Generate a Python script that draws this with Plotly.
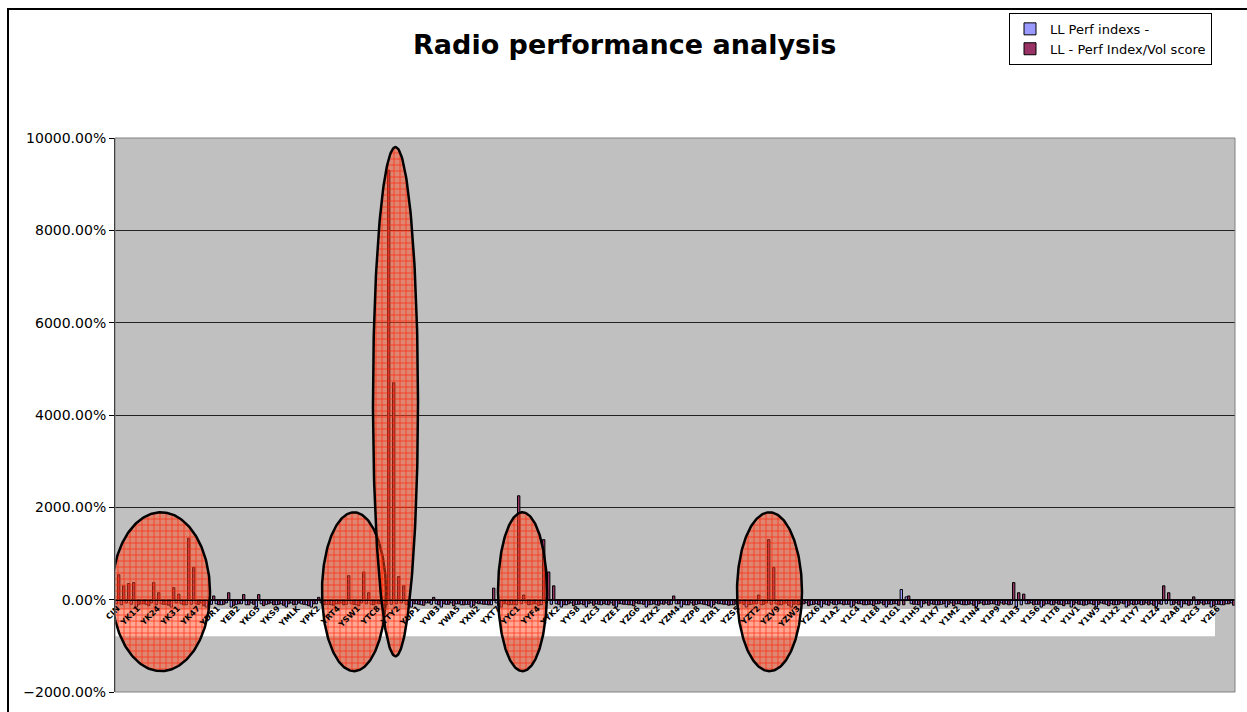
import numpy as np
import plotly.graph_objects as go

# ---------------- data ----------------
series_names = ["LL Perf indexs -", "LL - Perf Index/Vol score"]

perf_index = [
    -90, -110, -70, -100, -160, -90, -100, -70, -110, -90, -100, -160, -70, -90, -110, -100,
    -90, -70, -160, -100, -90, -110, -70, -160, -100, -90, -110, -70, -160, -90, -100, -70,
    -110, -90, -160, -70, -100, -90, -110, -160, -90, -70, -100, -110, -90, -70, -100, -90,
    -110, -70, -90, -100, -70, -90, -110, -100, -90, -70, -100, -160, -90, -110, -70, -100,
    -90, -160, -100, -70, -90, -110, -100, -160, -70, -90, -100, -110, -70, -160, -90, -100,
    -110, -90, -70, -100, -90, -110, -70, -100, -90, -160, -110, -70, -100, -90, -160, -70,
    -90, -110, -100, -70, -160, -90, -100, -110, -70, -90, -160, -100, -110, -90, -70, -100,
    -90, -160, -110, -70, -100, -90, -110, -160, -70, -90, -100, -110, -90, -70, -160, -100,
    -90, -110, -70, -100, -90, -110, -70, -160, -90, -100, -70, -110, -90, -160, -100, -70,
    -110, -90, -100, -160, -70, -90, -110, -100, -90, -70, -160, -100, -90, 220, 60, -90,
    -100, -160, -70, -90, -110, -100, -160, -70, -90, -100, -110, -90, -160, -70, -100, -90,
    -110, -70, -90, -100, -160, -110, -90, -70, -100, -160, -90, -110, -70, -100, -90, -160,
    -70, -100, -110, -90, -160, -70, -100, -90, -110, -70, -160, -90, -100, -110, -70, -90,
    -160, -100, -90, -110, -70, -160, -90, -100, -110, -70, -90, -160, -100, -110, -90, -70,
]

perf_vol_score = [
    540, 300, 350, 370, -110, -90, -130, 370, 150, -100, -120, 260, 120, -110, 1330, 700,
    -100, -130, -90, 80, -110, -100, 150, -120, -90, 110, -110, -100, 110, -130, -90, -110,
    -100, -120, -90, -110, -70, -100, -130, -90, 50, -110, -100, -120, -90, -110, 520, -100,
    -130, 600, 150, -110, -90, -120, 9300, 4700, 500, 300, -110, -90, -100, -120, -70, 50,
    -110, -90, -100, -130, -90, -110, -100, -120, -90, -100, -110, 250, -120, -90, -110, -100,
    2250, 100, -110, -90, -120, 1300, 600, 300, -100, -110, -90, -130, -100, -110, -90, -120,
    -100, -90, -110, -120, -90, -100, -110, -130, -90, -100, -110, -90, -120, -100, -110, 80,
    -90, -100, -110, -120, -90, -100, -130, -110, -90, -100, -120, -110, -90, -100, -110, -90,
    100, -100, 1300, 700, -110, -90, -120, -100, -110, -90, -130, -100, -110, -90, -120, -100,
    -90, -110, -100, -120, -90, -110, -100, -130, -90, -110, -100, -90, -120, -110, 80, -100,
    -110, -90, -120, -100, -110, -90, -100, -130, -90, -110, -100, -120, -90, -110, -100, -90,
    -120, -100, -110, 370, 150, 120, -90, -110, -100, -120, -90, -110, -100, -130, -90, -110,
    -100, -120, -90, -110, -100, -90, -130, -110, -100, -90, -120, -110, -90, -100, -110, -120,
    -90, 300, 150, -100, -110, -90, -120, 60, -100, -110, -90, -130, -100, -110, -90, -120,
]

tick_labels = [
    "CIN", "YK11", "YK24", "YK31", "YK47", "YDR1", "YEB2", "YKG5", "YKS9", "YMLK",
    "YPK2", "YRT4", "YSW1", "YTC8", "YTY2", "YUP1", "YVB3", "YWA5", "YXN2", "YXT7",
    "YYC1", "YYF4", "YYK2", "YYS8", "YZC3", "YZE1", "YZG6", "YZK2", "YZM4", "YZP8",
    "YZR1", "YZS5", "YZT2", "YZV9", "YZW3", "YZX6", "Y1A2", "Y1C4", "Y1E8", "Y1G1",
    "Y1H5", "Y1K7", "Y1M2", "Y1N4", "Y1P9", "Y1R3", "Y1S6", "Y1T8", "Y1V1", "Y1W5",
    "Y1X2", "Y1Y7", "Y1Z4", "Y2A8", "Y2C3", "Y2E6",
]

# highlight ellipses: centre category, centre value, half-width (categories), half-height (%)
ellipse_cx = [8.7, 47.3, 55.6, 81.0, 130.4]
ellipse_cy = [172, 172, 4289, 172, 172]
ellipse_rx = [9.8, 6.4, 4.5, 4.9, 6.5]
ellipse_ry = [1720, 1720, 5515, 1720, 1720]

# ---------------- figure ----------------
N = len(perf_vol_score)
x = list(range(N))

fig = go.Figure()
fig.add_trace(go.Bar(x=x, y=perf_index, name=series_names[0],
                     marker=dict(color="#9999FF", line=dict(color="black", width=1))))
fig.add_trace(go.Bar(x=x, y=perf_vol_score, name=series_names[1],
                     marker=dict(color="#993366", line=dict(color="black", width=1))))

t = np.linspace(0, 2 * np.pi, 240)
for cx, cy, rx, ry in zip(ellipse_cx, ellipse_cy, ellipse_rx, ellipse_ry):
    fig.add_trace(go.Scatter(
        x=cx + rx * np.cos(t), y=cy + ry * np.sin(t),
        mode="lines", fill="toself",
        line=dict(color="black", width=2.5),
        fillcolor="rgba(255,70,30,0.5)",
        fillpattern=dict(shape="+", size=6, solidity=0.25, fgopacity=0.8,
                         fgcolor="rgb(255,30,0)", bgcolor="rgba(255,70,30,0.48)"),
        hoverinfo="skip", showlegend=False))

W, H = 1247, 712
L, R, T, B = 115, 12, 138, 16
pw, ph = W - L - R, H - T - B

def px_x(p):
    return (p - L) / pw

def px_y(p):
    return (H - B - p) / ph

ymin, ymax = -2000, 10000
tickvals = [i * 4 for i in range(len(tick_labels))]

fig.update_layout(
    width=W, height=H,
    margin=dict(l=L, r=R, t=T, b=B),
    paper_bgcolor="white", plot_bgcolor="#C0C0C0",
    barmode="group", bargap=0.05, bargroupgap=0,
    font=dict(family="DejaVu Sans", color="black"),
    title=dict(text="Radio performance analysis", x=0.501, xref="container",
               y=1 - 45 / H, yref="container", xanchor="center", yanchor="middle",
               font=dict(family="DejaVu Sans", size=27, weight="bold", color="black")),
    legend=dict(x=px_x(1212), y=px_y(12), xanchor="right", yanchor="top",
                bgcolor="white", bordercolor="black", borderwidth=1,
                font=dict(family="DejaVu Sans", size=13), tracegroupgap=2),
    xaxis=dict(range=[-0.5, N - 0.5], tickvals=tickvals, ticktext=tick_labels,
               tickangle=-45, tickfont=dict(size=8, color="black", weight="bold"),
               showgrid=False, zeroline=False, showline=True, linecolor="black",
               linewidth=1, anchor="free",
               position=(0 - ymin) / (ymax - ymin), ticks=""),
    yaxis=dict(range=[ymin, ymax], dtick=2000, tickformat=".2f", ticksuffix="%",
               tickfont=dict(size=14, color="black"),
               showgrid=True, gridcolor="#222222", gridwidth=1, zeroline=False,
               showline=True, linecolor="black", linewidth=1,
               ticks="outside", ticklen=5, tickcolor="black"),
    shapes=[
        # white label strip under the axis
        dict(type="rect", xref="x", yref="y", x0=-1.5, x1=219.5, y0=-200, y1=-790,
             fillcolor="white", line=dict(width=0), layer="below"),
        # plot area border
        dict(type="rect", xref="paper", yref="paper", x0=0, x1=1, y0=0, y1=1,
             line=dict(color="#808080", width=1), layer="above"),
        # outer chart border
        dict(type="rect", xref="paper", yref="paper", x0=px_x(8), x1=px_x(1262),
             y0=px_y(725), y1=px_y(8), line=dict(color="black", width=2),
             layer="above"),
    ],
)

fig.write_html("out.html")
